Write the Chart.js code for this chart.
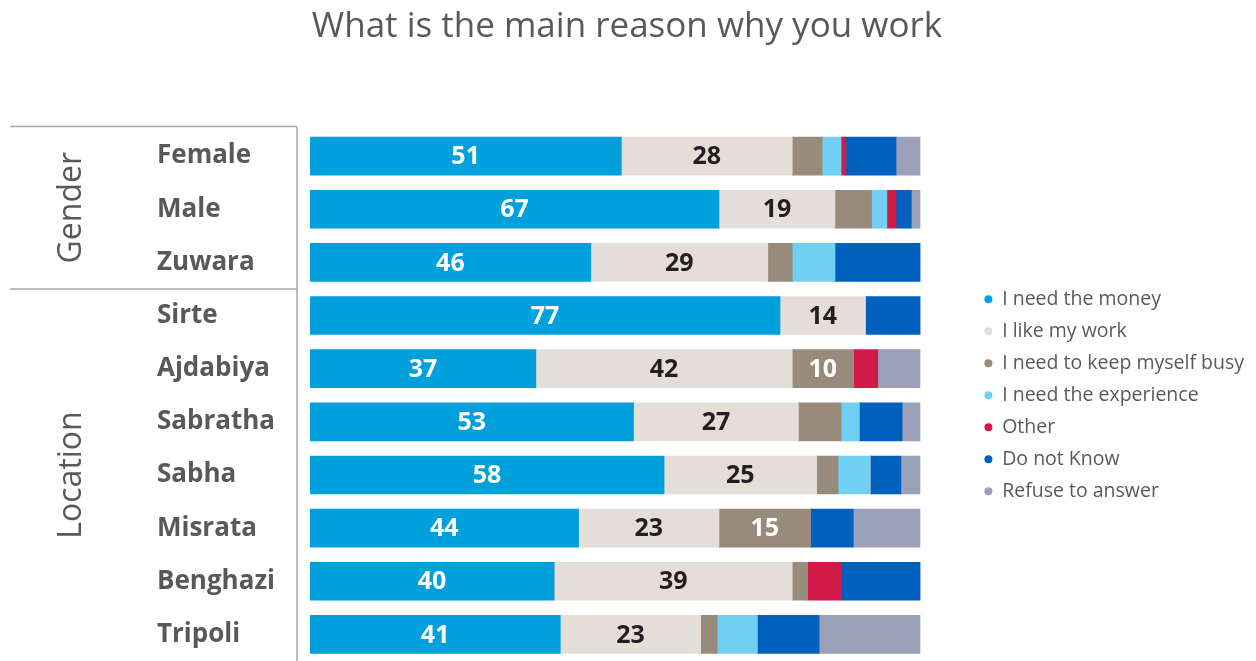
<!DOCTYPE html>
<html>
<head>
<meta charset="utf-8">
<script src="https://cdn.jsdelivr.net/npm/chart.js@4"></script>
<style>
  html, body { margin: 0; padding: 0; background: #fff; overflow: hidden; }
  canvas { display: block; }
</style>
</head>
<body>
<canvas id="reasonChart" width="1256" height="661"></canvas>
<script>
const categories = ['Female', 'Male', 'Zuwara', 'Sirte', 'Ajdabiya', 'Sabratha', 'Sabha', 'Misrata', 'Benghazi', 'Tripoli'];

// group brackets on the left: [label, first row, last row]
const groups = [['Gender', 0, 2], ['Location', 3, 9]];

const needMoney  = [51, 67, 46, 77, 37, 53, 58, 44, 40, 41];
const likeWork   = [28, 19, 29, 14, 42, 27, 25, 23, 39, 23];
const keepBusy   = [4.9, 6, 4, 0, 10, 7, 3.5, 15, 2.5, 2.7];
const experience = [3.1, 2.5, 7, 0, 0, 3, 5.3, 0, 0, 6.6];
const other      = [0.8, 1.5, 0, 0, 4, 0, 0, 0, 5.5, 0];
const doNotKnow  = [8.2, 2.5, 14, 9, 0, 7, 5, 7, 13, 10.1];
const refuse     = [4, 1.5, 0, 0, 7, 3, 3.2, 11, 0, 16.6];

const FONT = "'Open Sans', 'Noto Sans', sans-serif";
const GREY = '#595959';

// writes the value in the middle of each segment that is wide enough
const segmentLabels = {
  id: 'segmentLabels',
  afterDatasetsDraw(chart) {
    const ctx = chart.ctx;
    ctx.save();
    ctx.font = `bold 25px ${FONT}`;
    ctx.textAlign = 'center';
    ctx.textBaseline = 'middle';
    chart.data.datasets.forEach((ds, i) => {
      if (!ds.labelColor) return;
      const meta = chart.getDatasetMeta(i);
      meta.data.forEach((bar, j) => {
        const v = ds.data[j];
        if (v < 10) return;
        const p = bar.getCenterPoint();
        ctx.fillStyle = ds.labelColor;
        ctx.fillText(Math.round(v), p.x, p.y + 1);
      });
    });
    ctx.restore();
  }
};

// bracket lines and rotated group names left of the row labels
const groupBrackets = {
  id: 'groupBrackets',
  afterDraw(chart) {
    const ctx = chart.ctx;
    const y = chart.scales.y;
    const top = chart.chartArea.top - 3;
    const bottom = chart.chartArea.bottom;
    const lineX = 297;
    ctx.save();
    ctx.strokeStyle = '#a6a6a6';
    ctx.lineWidth = 1.5;
    ctx.beginPath();
    ctx.moveTo(lineX, top);
    ctx.lineTo(lineX, bottom);
    ctx.moveTo(10, top);
    ctx.lineTo(lineX, top);
    ctx.stroke();

    ctx.font = `32px ${FONT}`;
    ctx.fillStyle = GREY;
    ctx.textAlign = 'center';
    ctx.textBaseline = 'middle';
    groups.forEach(([name, first, last], gi) => {
      const y0 = gi === 0 ? top : (y.getPixelForValue(first - 1) + y.getPixelForValue(first)) / 2;
      const y1 = last === categories.length - 1 ? bottom : (y.getPixelForValue(last) + y.getPixelForValue(last + 1)) / 2;
      if (gi > 0) {
        ctx.beginPath();
        ctx.moveTo(10, y0);
        ctx.lineTo(lineX, y0);
        ctx.stroke();
      }
      ctx.save();
      ctx.translate(72, (y0 + y1) / 2);
      ctx.rotate(-Math.PI / 2);
      ctx.fillText(name, 0, 0);
      ctx.restore();
    });
    ctx.restore();
  }
};

const ctx = document.getElementById('reasonChart').getContext('2d');
new Chart(ctx, {
  type: 'bar',
  data: {
    labels: categories,
    datasets: [
      { label: 'I need the money', data: needMoney, backgroundColor: '#00a0dc', labelColor: '#ffffff' },
      { label: 'I like my work', data: likeWork, backgroundColor: '#e4ded8', labelColor: '#231f20' },
      { label: 'I need to keep myself busy', data: keepBusy, backgroundColor: '#988b7b', labelColor: '#ffffff' },
      { label: 'I need the experience', data: experience, backgroundColor: '#70d0f3' },
      { label: 'Other', data: other, backgroundColor: '#d21a48' },
      { label: 'Do not Know', data: doNotKnow, backgroundColor: '#0060bd' },
      { label: 'Refuse to answer', data: refuse, backgroundColor: '#9aa1b9' }
    ]
  },
  options: {
    indexAxis: 'y',
    responsive: false,
    animation: false,
    devicePixelRatio: 1,
    datasets: {
      bar: { barThickness: 38, borderWidth: 0 }
    },
    layout: {
      padding: { left: 0, right: 2, top: 0, bottom: 0 }
    },
    plugins: {
      tooltip: { enabled: false },
      title: {
        display: true,
        text: 'What is the main reason why you work',
        color: GREY,
        font: { family: FONT, size: 35, weight: 'normal' },
        padding: { top: 6, bottom: 81.5 }
      },
      legend: {
        position: 'right',
        fullSize: false,
        maxWidth: 320,
        labels: {
          usePointStyle: true,
          pointStyle: 'circle',
          boxWidth: 8,
          boxHeight: 5.66,
          padding: 12.5,
          color: GREY,
          font: { family: FONT, size: 19.5 }
        }
      }
    },
    scales: {
      x: {
        stacked: true,
        min: 0,
        max: 100,
        display: false
      },
      y: {
        stacked: true,
        grid: { display: false },
        border: { display: false },
        ticks: {
          autoSkip: false,
          crossAlign: 'far',
          color: GREY,
          font: { family: FONT, size: 26, weight: 'bold' }
        },
        afterFit(scale) {
          scale.width = 153;
          // rows fill the full height, no room kept for label overhang
          scale.paddingTop = 0;
          scale.paddingBottom = 0;
        }
      },
      // room for the Gender / Location brackets
      brace: {
        type: 'category',
        labels: categories,
        position: 'left',
        weight: 10,
        grid: { display: false },
        border: { display: false },
        ticks: { display: false },
        afterFit(scale) { scale.width = 157; }
      },
      // empty spacer between the bars and the legend
      gap: {
        type: 'category',
        labels: categories,
        position: 'right',
        grid: { display: false },
        border: { display: false },
        ticks: { display: false },
        afterFit(scale) { scale.width = 51.5; }
      }
    }
  },
  plugins: [segmentLabels, groupBrackets]
});
</script>
</body>
</html>
